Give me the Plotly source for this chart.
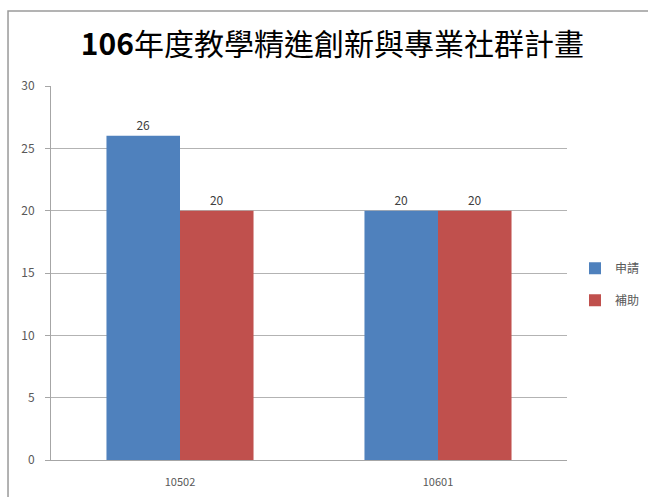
import plotly.graph_objects as go

# data
categories = ['10502', '10601']
apply_vals = [26, 20]      # 申請
grant_vals = [20, 20]      # 補助
series_names = ['申請', '補助']
y_ticks = [0, 5, 10, 15, 20, 25, 30]

font_family = 'Noto Sans CJK TC, Noto Sans, sans-serif'

fig = go.Figure()

fig.add_trace(go.Bar(
    x=categories,
    y=apply_vals,
    name=series_names[0],
    legendgroup='a',
    marker=dict(color='#4F81BD', line_width=0),
    text=apply_vals,
    textposition='outside',
    textfont=dict(size=12, color='#404040'),
    cliponaxis=False
))

fig.add_trace(go.Bar(
    x=categories,
    y=grant_vals,
    name=series_names[1],
    legendgroup='b',
    marker=dict(color='#C0504D', line_width=0),
    text=grant_vals,
    textposition='outside',
    textfont=dict(size=12, color='#404040'),
    cliponaxis=False
))

# outer chart border (cropped on right/bottom like the screenshot)
fig.add_shape(type='rect', xref='paper', yref='paper',
              x0=-0.0833, x1=1.3, y0=-0.3, y1=1.2005,
              line=dict(color='#9a9a9a', width=1.5), layer='below')

fig.update_layout(
    width=648,
    height=497,
    title=dict(
        text='<b>106</b>年度教學精進創新與專業社群計畫',
        x=0.513, xanchor='center', y=0.91, yanchor='middle',
        font=dict(family=font_family, size=30, color='#000000')
    ),
    font=dict(family=font_family, color='#595959'),
    barmode='group',
    bargap=0.43,
    bargroupgap=0,
    plot_bgcolor='white',
    paper_bgcolor='white',
    margin=dict(l=51, r=81, t=86, b=37, autoexpand=False),
    showlegend=True,
    legend=dict(
        x=1.0155, xanchor='left', y=0.47, yanchor='middle',
        font=dict(size=12, color='#595959'),
        tracegroupgap=13,
        itemwidth=30,
        bgcolor='rgba(0,0,0,0)'
    ),
    xaxis=dict(
        showgrid=False,
        showline=True, linecolor='#a6a6a6', linewidth=1,
        ticks='', tickfont=dict(size=11, color='#595959'),
        ticklabelstandoff=12
    ),
    yaxis=dict(
        range=[0, 30],
        tickvals=y_ticks,
        showgrid=True, gridcolor='#b3b3b3', gridwidth=1,
        showline=True, linecolor='#a6a6a6', linewidth=1,
        ticks='outside', ticklen=5, tickcolor='#a6a6a6',
        tickfont=dict(size=12, color='#595959'),
        ticklabelstandoff=8,
        zeroline=False
    )
)

fig.write_html('out.html', config={'displayModeBar': False},
               post_script="document.body.style.margin='0';")
